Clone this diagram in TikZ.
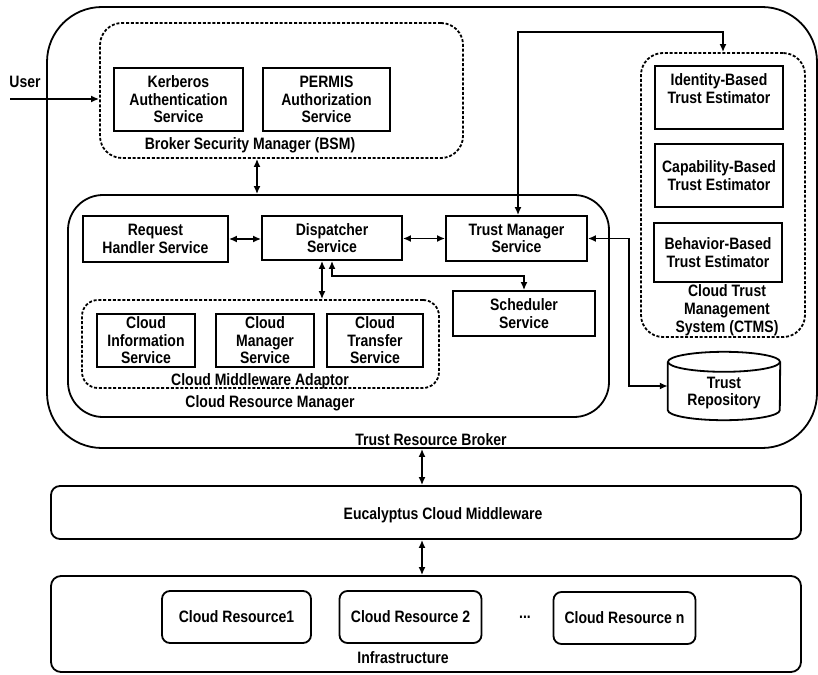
\documentclass[tikz,border=0pt]{standalone}
\usepackage{fontspec}
\setmainfont{Liberation Sans}[FakeStretch=0.85]
\usetikzlibrary{arrows.meta,calc}
\newcommand\boxfont{\fontsize{16.5}{17.5}\selectfont\bfseries}
\begin{document}
\begin{tikzpicture}[x=1pt,y=-1pt,
  every node/.style={font=\boxfont, align=center, inner sep=0pt},
  svc/.style={draw, line width=1.8pt},
  grp/.style={draw, line width=1.8pt, dash pattern=on 3pt off 1.8pt},
  tier/.style={draw, line width=1.8pt},
  both/.style={{Latex[length=8pt,width=7pt]}-{Latex[length=8pt,width=7pt]}, line width=1.7pt},
  one/.style={-{Latex[length=8pt,width=7pt]}, line width=1.7pt}]
\useasboundingbox (0,0) rectangle (818,674);

% ---------------- Trust Resource Broker ----------------
\node[tier, rounded corners=55pt, minimum width=770pt, minimum height=441pt] (broker) at (432,227.5) {};
\node (brokerlbl) at (431,440) {Trust Resource Broker};

% Broker Security Manager
\node[grp, rounded corners=22pt, minimum width=363pt, minimum height=135pt] (bsm) at (281.5,90.5) {};
\node[svc, minimum width=129pt, minimum height=63pt] (kerb) at (178.5,99.5) {Kerberos\\Authentication\\Service};
\node[svc, minimum width=127pt, minimum height=63pt] (permis) at (326.5,99.5) {PERMIS\\Authorization\\Service};
\node (bsmlbl) at (250,145) {Broker Security Manager (BSM)};

% Cloud Resource Manager
\node[tier, rounded corners=35pt, minimum width=541pt, minimum height=222pt] (crm) at (338.5,306) {};
\node[svc, minimum width=145pt, minimum height=46pt] (req) at (155.5,239) {Request\\Handler Service};
\node[svc, minimum width=140pt, minimum height=44pt] (disp) at (332,238) {Dispatcher\\Service};
\node[svc, minimum width=141pt, minimum height=45pt] (tm) at (516.5,238.5) {Trust Manager\\Service};
\node[svc, minimum width=142pt, minimum height=45pt] (sched) at (524,313.5) {Scheduler\\Service};
\node[grp, rounded corners=16pt, minimum width=357pt, minimum height=88pt] (cma) at (260.5,344) {};
\node[svc, minimum width=98pt, minimum height=53pt] (cis) at (146,340.5) {Cloud\\Information\\Service};
\node[svc, minimum width=98pt, minimum height=53pt] (cms) at (265,340.5) {Cloud\\Manager\\Service};
\node[svc, minimum width=96pt, minimum height=53pt] (cts) at (375,340.5) {Cloud\\Transfer\\Service};
\node (cmalbl) at (260,381) {Cloud Middleware Adaptor};
\node (crmlbl) at (270,403) {Cloud Resource Manager};

% Cloud Trust Management System
\node[grp, rounded corners=22pt, minimum width=164pt, minimum height=284pt] (ctms) at (723,195) {};
\node[svc, minimum width=128pt, minimum height=63pt,
      label={[yshift=9pt]center:Identity-Based\\Trust Estimator}] (idt) at (719,97.5) {};
\node[svc, minimum width=128pt, minimum height=63pt] (capb) at (719,175.5) {Capability-Based\\Trust Estimator};
\node[svc, minimum width=128pt, minimum height=59pt] (behv) at (718,252.5) {Behavior-Based\\Trust Estimator};
\node[font=\fontsize{16.5}{18}\selectfont\bfseries] (ctmslbl) at (727,310) {Cloud Trust\\Management\\System (CTMS)};

% Trust Repository (cylinder)
\node[minimum width=112pt, minimum height=68pt] (repo) at (724,386) {};
\draw[line width=1.8pt] ([yshift=-10pt]repo.north) ellipse [x radius=56pt, y radius=10pt];
\draw[line width=1.8pt] ([yshift=-10pt]repo.north west) -- ([yshift=10pt]repo.south west)
  arc[start angle=180, end angle=360, x radius=56pt, y radius=10pt]
  -- ([yshift=-10pt]repo.north east);
\node (repolbl) at (724,393) {Trust\\Repository};

% ---------------- Middleware and infrastructure ----------------
\node[tier, rounded corners=9pt, minimum width=750pt, minimum height=53pt,
      label={[xshift=17pt, yshift=-2.5pt]center:Eucalyptus Cloud Middleware}] (euca) at (426,512.5) {};
\node[tier, rounded corners=10pt, minimum width=750pt, minimum height=96pt] (infra) at (426,624) {};
\node[svc, rounded corners=8pt, minimum width=149pt, minimum height=52pt] (cr1) at (236.5,617) {Cloud Resource1};
\node[svc, rounded corners=8pt, minimum width=142pt, minimum height=52pt] (cr2) at (410.5,617) {Cloud Resource 2};
\node (dots) at (525,617) {...};
\node[svc, rounded corners=8pt, minimum width=142pt, minimum height=52pt] (crn) at (624.5,618) {Cloud Resource n};
\node (infralbl) at (403,658) {Infrastructure};

% ---------------- Connectors ----------------
\node (user) at (25,82) {User};
\coordinate (u0) at (10,99);
\draw[one] (u0) -- (u0 -| bsm.west);

\coordinate (x1) at (257,0);
\draw[both] (bsm.south -| x1) -- (crm.north -| x1);

\draw[both] (req.east) -- (disp.west |- req.east);
\draw[both] (disp.east |- tm.west) -- (tm.west);

\coordinate (x2) at (322,0);
\draw[both] (disp.south -| x2) -- (cma.north -| x2);

\coordinate (s1) at (332,276);
\coordinate (s2) at (524,276);
\draw[both] (disp.south -| s1) -- (s1) -- (s2) -- (sched.north -| s2);

\coordinate (j1) at (518,32);
\coordinate (j2) at (723,32);
\draw[both] (tm.north -| j1) -- (j1) -- (j2) -- (ctms.north -| j2);

\coordinate (k) at (629,0);
\draw[both] (tm.east) -- (tm.east -| k) -- (k |- repo.west) -- (repo.west);

\coordinate (x3) at (422,0);
\draw[both] (broker.south -| x3) -- (euca.north -| x3);
\draw[both] (euca.south -| x3) -- (infra.north -| x3);
\end{tikzpicture}
\end{document}
